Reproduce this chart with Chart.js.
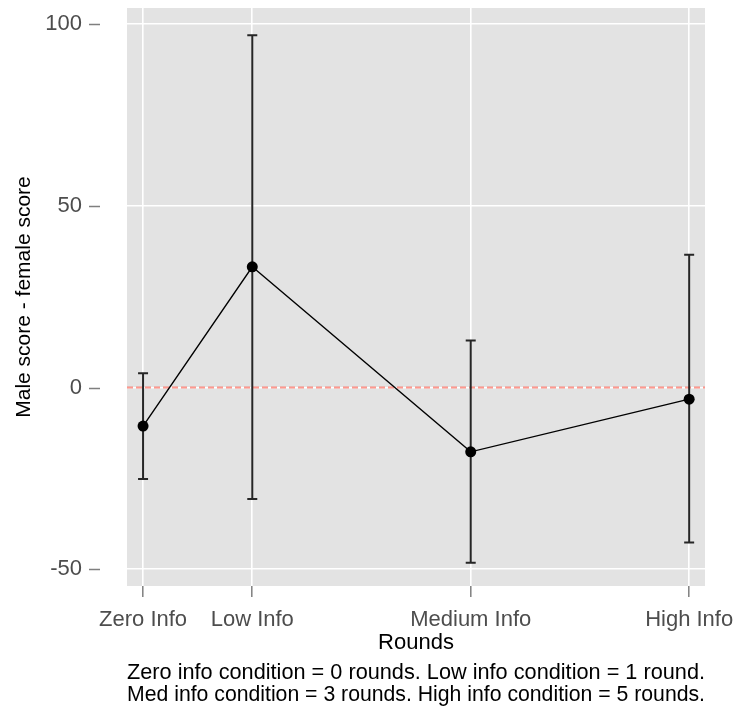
<!DOCTYPE html>
<html>
<head>
<meta charset="utf-8">
<script src="https://cdn.jsdelivr.net/npm/chart.js@4.4.1/dist/chart.umd.min.js"></script>
<style>
  html, body { margin: 0; padding: 0; background: #ffffff; }
  #wrap { width: 739px; height: 713px; }
</style>
</head>
<body>
<div id="wrap"><canvas id="c" width="739" height="713"></canvas></div>
<script>
// ---- data ----
const categories = ['Zero Info', 'Low Info', 'Medium Info', 'High Info'];
const rounds = [0, 1, 3, 5];
const meanDiff = [-10.6, 33.2, -17.7, -3.2];
const ciLow = [-25.2, -30.7, -48.2, -42.6];
const ciHigh = [3.9, 96.9, 12.9, 36.5];
const yTicks = [-50, 0, 50, 100];
const refLineY = 0;
const xRange = [-0.147, 5.145];
const yRange = [-54.6, 104.4];
const captionLines = [
  'Zero info condition = 0 rounds. Low info condition = 1 round.',
  'Med info condition = 3 rounds. High info condition = 5 rounds.'
];

const FONT = "'Liberation Sans', Arial, sans-serif";

const panelBg = {
  id: 'panelBg',
  beforeDraw(chart) {
    const {ctx, chartArea: a} = chart;
    ctx.save();
    ctx.fillStyle = '#e3e3e3';
    ctx.fillRect(a.left, a.top, a.right - a.left, a.bottom - a.top);
    ctx.restore();
  }
};

const yTickMarks = {
  id: 'yTickMarks',
  afterDraw(chart) {
    const {ctx} = chart;
    const y = chart.scales.y;
    ctx.save();
    ctx.strokeStyle = '#7f7f7f';
    ctx.lineWidth = 1.5;
    yTicks.forEach(v => {
      const py = Math.round(y.getPixelForValue(v)) + 0.5;
      ctx.beginPath();
      ctx.moveTo(89, py);
      ctx.lineTo(100, py);
      ctx.stroke();
    });
    ctx.restore();
  }
};

const errorBars = {
  id: 'errorBars',
  afterDatasetDraw(chart, args) {
    if (args.index !== 1) return;
    const {ctx} = chart;
    const x = chart.scales.x, y = chart.scales.y;
    ctx.save();
    ctx.strokeStyle = '#262626';
    ctx.lineWidth = 2;
    rounds.forEach((r, i) => {
      const px = x.getPixelForValue(r);
      const top = y.getPixelForValue(ciHigh[i]);
      const bot = y.getPixelForValue(ciLow[i]);
      ctx.beginPath();
      ctx.moveTo(px, top); ctx.lineTo(px, bot);
      ctx.moveTo(px - 5, top); ctx.lineTo(px + 5, top);
      ctx.moveTo(px - 5, bot); ctx.lineTo(px + 5, bot);
      ctx.stroke();
    });
    ctx.restore();
  }
};

new Chart(document.getElementById('c'), {
  type: 'line',
  data: {
    datasets: [
      {
        label: 'Mean difference',
        data: rounds.map((r, i) => ({x: r, y: meanDiff[i]})),
        borderColor: '#000000',
        backgroundColor: '#000000',
        borderWidth: 1.4,
        pointRadius: 5.5,
        pointBorderWidth: 0,
        pointBackgroundColor: '#000000',
        tension: 0,
        order: 1
      },
      {
        label: 'Zero line',
        data: xRange.map(xv => ({x: xv, y: refLineY})),
        borderColor: 'rgba(255, 50, 30, 0.5)',
        borderWidth: 2,
        borderDash: [6, 3],
        pointRadius: 0,
        order: 2
      }
    ]
  },
  options: {
    responsive: false,
    animation: false,
    devicePixelRatio: 1,
    layout: { padding: { left: 0, right: 34, top: 8, bottom: 0 } },
    plugins: {
      legend: { display: false },
      tooltip: { enabled: false },
      title: {
        display: true,
        position: 'bottom',
        fullSize: false,
        text: captionLines,
        color: '#000000',
        font: { family: FONT, size: 22, weight: 'normal', lineHeight: 1 },
        padding: { top: 0, bottom: 7 }
      }
    },
    scales: {
      x: {
        type: 'linear',
        min: xRange[0],
        max: xRange[1],
        afterBuildTicks: s => { s.ticks = rounds.map(v => ({value: v})); },
        afterFit: s => { s.height = 76; s.paddingLeft = 0; s.paddingRight = 0; },
        border: { display: false },
        grid: {
          color: '#ffffff',
          lineWidth: 1.6,
          tickColor: '#7f7f7f',
          tickLength: 11,
          tickWidth: 1.5,
          drawTicks: true
        },
        ticks: {
          color: '#4d4d4d',
          font: { family: FONT, size: 22 },
          padding: 10,
          maxRotation: 0,
          autoSkip: false,
          callback: v => categories[rounds.indexOf(v)]
        },
        title: {
          display: true,
          text: 'Rounds',
          color: '#000000',
          font: { family: FONT, size: 22, lineHeight: 1.2 },
          padding: { top: 0, bottom: 6 }
        }
      },
      y: {
        type: 'linear',
        min: yRange[0],
        max: yRange[1],
        afterBuildTicks: s => { s.ticks = yTicks.map(v => ({value: v})); },
        afterFit: s => { s.width = 127; s.paddingTop = 0; s.paddingBottom = 0; },
        border: { display: false },
        grid: {
          color: '#ffffff',
          lineWidth: 1.6,
          drawTicks: false
        },
        ticks: {
          color: '#4d4d4d',
          font: { family: FONT, size: 22 },
          padding: 45
        },
        title: {
          display: true,
          text: 'Male score - female score',
          color: '#000000',
          font: { family: FONT, size: 21, lineHeight: 1.2 },
          padding: { top: 12, bottom: 0 }
        }
      }
    }
  },
  plugins: [panelBg, errorBars, yTickMarks]
});
</script>
</body>
</html>
